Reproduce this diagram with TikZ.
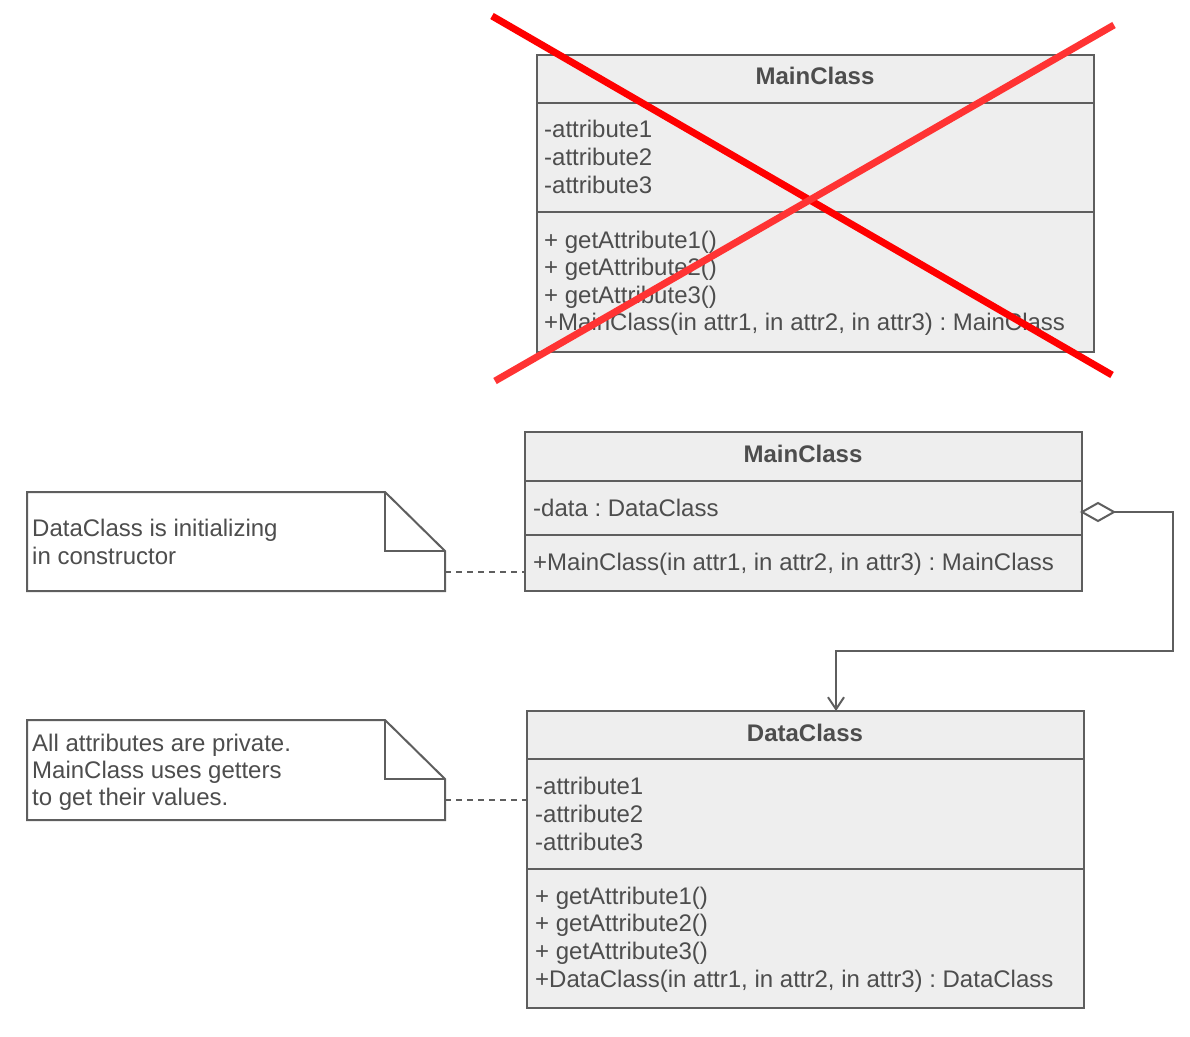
\documentclass[tikz,border=0pt]{standalone}
\usepackage{fontspec}
\setmainfont{Liberation Sans}
\usetikzlibrary{arrows.meta}
\frenchspacing
\definecolor{boxfill}{HTML}{EEEEEE}
\definecolor{boxline}{HTML}{5E5E5E}
\definecolor{txt}{HTML}{4D4D4D}
\definecolor{xredA}{HTML}{FF0000}
\definecolor{xredB}{HTML}{FF3333}
\tikzset{
  classbox/.style={draw=boxline, fill=boxfill, line width=2pt, inner sep=0pt, outer sep=0pt, anchor=north west},
  divider/.style={draw=boxline, line width=2pt},
  ctitle/.style={anchor=base, inner sep=0pt, text=txt, font=\fontsize{24}{28}\selectfont\bfseries},
  ctext/.style={anchor=base west, inner sep=0pt, text=txt, font=\fontsize{24}{28}\selectfont},
  noteline/.style={draw=boxline, line width=2pt, line join=miter},
  notelink/.style={draw=boxline, line width=1.5pt, dash pattern=on 6pt off 5pt},
  assoc/.style={draw=boxline, line width=2pt},
  cross/.style={line width=7pt}
}
\begin{document}
\begin{tikzpicture}[x=1pt,y=-1pt]
\useasboundingbox (0,0) rectangle (1190,1036);

% ---------- crossed-out MainClass ----------
\node[classbox, minimum width=557pt, minimum height=297pt] (oldmc) at (537,55) {};
\draw[divider] (537,103) -- (1094,103);
\draw[divider] (537,212) -- (1094,212);
\node[ctitle] (oldmct) at (815,84) {MainClass};
\node[ctext] (oa1) at (544,137) {-attribute1};
\node[ctext] (oa2) at (544,165) {-attribute2};
\node[ctext] (oa3) at (544,193) {-attribute3};
\node[ctext] (om1) at (544,248) {+ getAttribute1()};
\node[ctext] (om2) at (544,275) {+ getAttribute2()};
\node[ctext] (om3) at (544,303) {+ getAttribute3()};
\node[ctext] (om4) at (544,330) {+MainClass(in attr1, in attr2, in attr3) : MainClass};
\coordinate (xa1) at (492,16);
\coordinate (xa2) at (1112,375);
\coordinate (xb1) at (1114,25);
\coordinate (xb2) at (495,381);
\draw[cross, xredA] (xa1) -- (xa2);
\draw[cross, xredB] (xb1) -- (xb2);

% ---------- MainClass ----------
\node[classbox, minimum width=557pt, minimum height=159pt] (mc) at (525,432) {};
\draw[divider] (525,481) -- (1082,481);
\draw[divider] (525,535) -- (1082,535);
\node[ctitle] (mct) at (803,462) {MainClass};
\node[ctext] (mca) at (533,516) {-data : DataClass};
\node[ctext] (mcm) at (533,570) {+MainClass(in attr1, in attr2, in attr3) : MainClass};

% ---------- DataClass ----------
\node[classbox, minimum width=557pt, minimum height=297pt] (dc) at (527,711) {};
\draw[divider] (527,759) -- (1084,759);
\draw[divider] (527,869) -- (1084,869);
\node[ctitle] (dct) at (805,741) {DataClass};
\node[ctext] (da1) at (535,794) {-attribute1};
\node[ctext] (da2) at (535,822) {-attribute2};
\node[ctext] (da3) at (535,850) {-attribute3};
\node[ctext] (dm1) at (535,904) {+ getAttribute1()};
\node[ctext] (dm2) at (535,931) {+ getAttribute2()};
\node[ctext] (dm3) at (535,959) {+ getAttribute3()};
\node[ctext] (dm4) at (535,987) {+DataClass(in attr1, in attr2, in attr3) : DataClass};

% ---------- note 1 ----------
\node[inner sep=0pt, outer sep=0pt, minimum width=418pt, minimum height=99pt, anchor=north west] (n1) at (27,492) {};
\draw[noteline, fill=white] (27,492) -- (385,492) -- (445,551) -- (445,591) -- (27,591) -- cycle;
\draw[noteline] (385,492) -- (385,551) -- (445,551);
\node[ctext] (n1a) at (32,536) {DataClass is initializing};
\node[ctext] (n1b) at (32,564) {in constructor};

% ---------- note 2 ----------
\node[inner sep=0pt, outer sep=0pt, minimum width=418pt, minimum height=100pt, anchor=north west] (n2) at (27,720) {};
\draw[noteline, fill=white] (27,720) -- (385,720) -- (445,779) -- (445,820) -- (27,820) -- cycle;
\draw[noteline] (385,720) -- (385,779) -- (445,779);
\node[ctext] (n2a) at (32,751) {All attributes are private.};
\node[ctext] (n2b) at (32,778) {MainClass uses getters};
\node[ctext] (n2c) at (32,805) {to get their values.};

% ---------- note links ----------
\draw[notelink] (n1.east |- 0,572) -- (mc.west |- 0,572);
\draw[notelink] (n2.east |- 0,800) -- (dc.west |- 0,800);

% ---------- aggregation ----------
\coordinate (aggstart) at (1082,512);
\coordinate (aggtip) at (1114,512);
\draw[assoc, fill=white, line join=miter] (aggstart) -- (1098,503) -- (aggtip) -- (1098,521) -- cycle;
\draw[assoc, -{Straight Barb[length=12pt,width=16pt,line width=2pt]}]
  (aggtip) -- (1173,512) -- (1173,651) -- (836,651) -- (dc.north -| 836,0);
\end{tikzpicture}
\end{document}
